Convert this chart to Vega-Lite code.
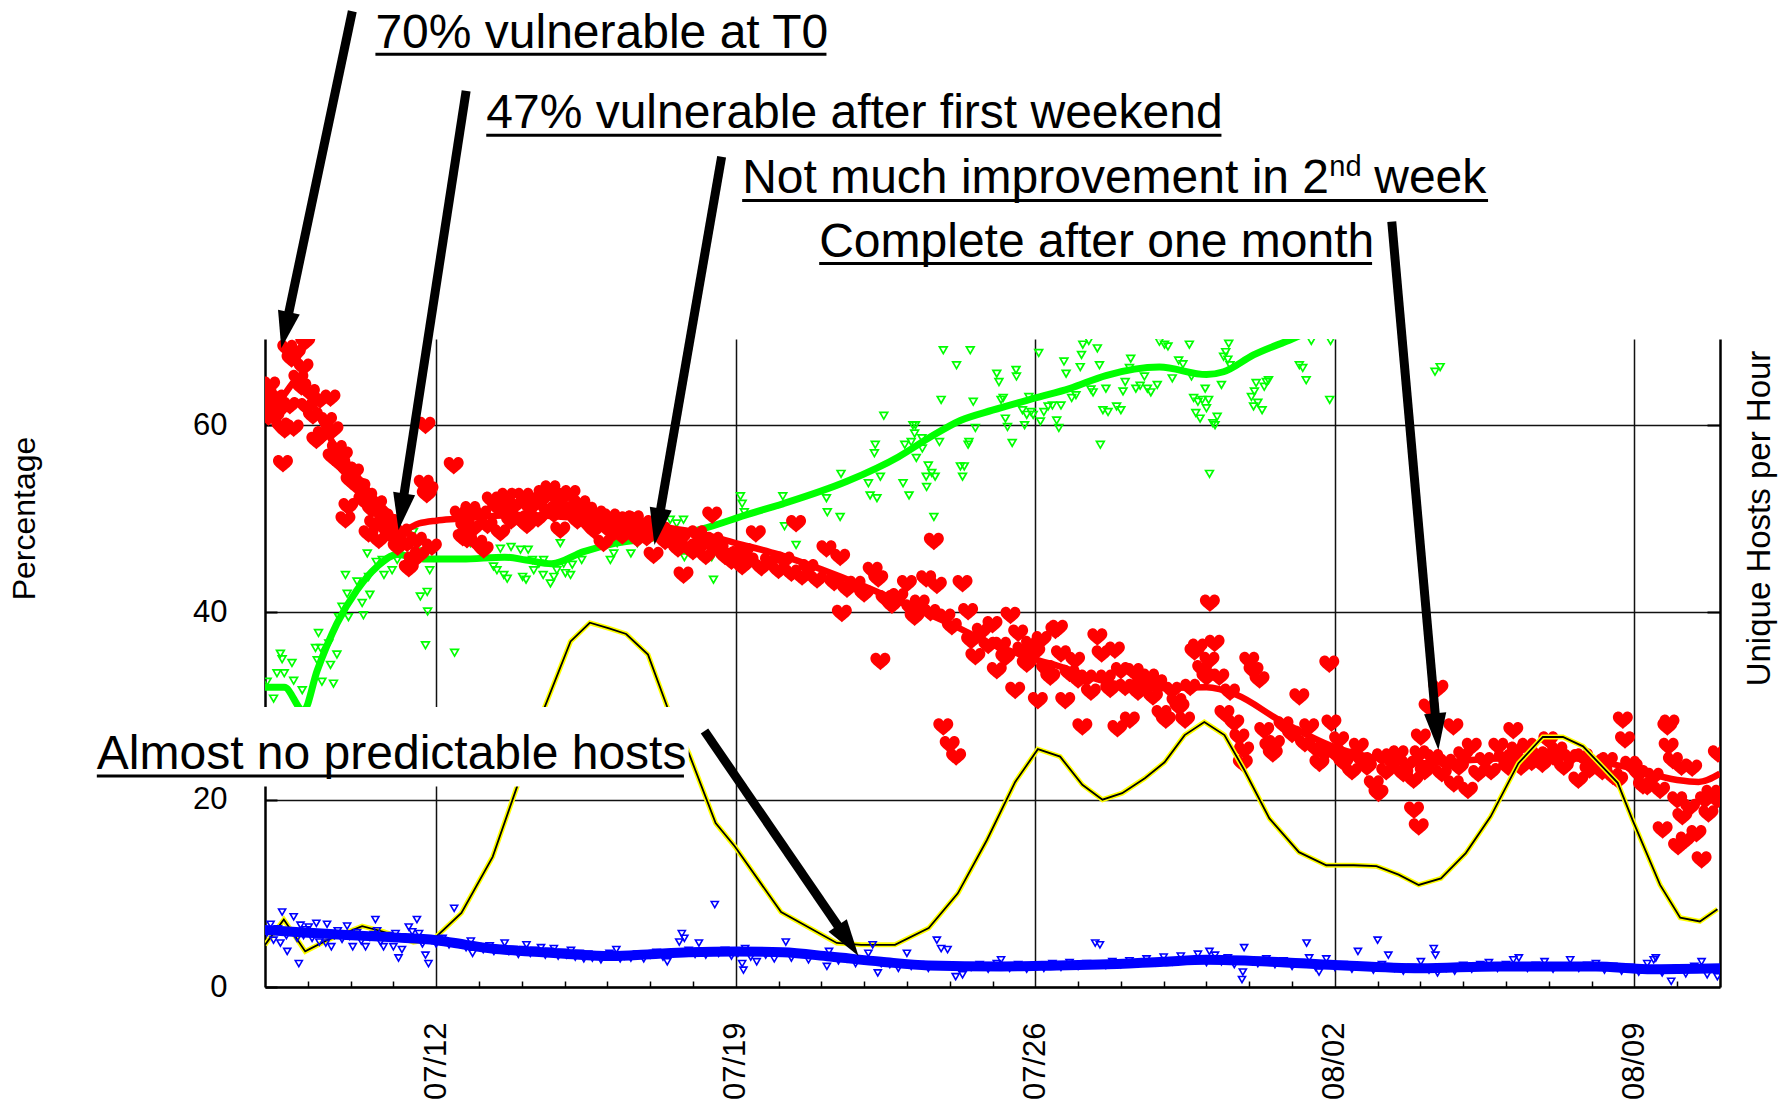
{
  "$schema": "https://vega.github.io/schema/vega-lite/v6.json",
  "width": 1455,
  "height": 648,
  "autosize": {"type": "none"},
  "padding": {"left": 265, "top": 339, "right": 61, "bottom": 117},
  "background": "white",
  "config": {"view": {"stroke": null}, "font": "Liberation Sans"},
  "datasets": {
    "vuln": [
      {"d":8.02,"v":62.0},{"d":8.05,"v":63.2},{"d":8.08,"v":60.9},{"d":8.12,"v":64.3},{"d":8.15,"v":61.6},{"d":8.18,"v":62.7},{"d":8.22,"v":60.9},{"d":8.28,"v":62.9},{"d":8.32,"v":61.6},{"d":8.38,"v":59.9},{"d":8.42,"v":55.9},{"d":8.46,"v":59.5},{"d":8.52,"v":68.2},{"d":8.58,"v":62.1},{"d":8.62,"v":67.1},{"d":8.67,"v":59.7},{"d":8.72,"v":67.7},{"d":8.78,"v":65.0},{"d":8.85,"v":64.1},{"d":8.9,"v":66.2},{"d":8.94,"v":68.9},{"d":8.97,"v":62.0},
      {"d":9.05,"v":63.5},{"d":9.12,"v":61.0},{"d":9.2,"v":58.4},{"d":9.29,"v":62.7},{"d":9.35,"v":59.0},{"d":9.45,"v":60.5},{"d":9.53,"v":62.9},{"d":9.58,"v":56.6},{"d":9.6,"v":59.5},{"d":9.68,"v":57.5},{"d":9.76,"v":55.9},{"d":9.82,"v":56.8},{"d":9.88,"v":49.9},{"d":9.92,"v":55.2},{"d":9.95,"v":51.3},{"d":10.0,"v":54.1},{"d":10.08,"v":55.0},{"d":10.15,"v":53.5},{"d":10.23,"v":53.4},{"d":10.3,"v":52.0},{"d":10.39,"v":52.4},{"d":10.42,"v":48.4},{"d":10.5,"v":51.0},{"d":10.55,"v":49.5},{"d":10.62,"v":51.6},{"d":10.66,"v":47.7},{"d":10.77,"v":50.2},{"d":10.85,"v":48.8},{"d":10.92,"v":49.6},{"d":11.0,"v":48.1},{"d":11.1,"v":47.0},{"d":11.2,"v":48.6},{"d":11.32,"v":47.4},{"d":11.36,"v":44.7},{"d":11.47,"v":45.6},{"d":11.55,"v":47.7},{"d":11.62,"v":46.2},{"d":11.71,"v":53.8},{"d":11.75,"v":60.0},{"d":11.78,"v":52.6},{"d":11.82,"v":53.1},{"d":11.9,"v":47.0},
      {"d":12.41,"v":55.7},{"d":12.55,"v":50.5},{"d":12.62,"v":48.0},{"d":12.68,"v":49.2},{"d":12.72,"v":47.8},{"d":12.8,"v":51.0},{"d":12.88,"v":49.0},{"d":12.96,"v":47.4},{"d":13.05,"v":50.5},{"d":13.11,"v":46.7},{"d":13.2,"v":49.3},{"d":13.3,"v":52.0},{"d":13.42,"v":51.3},{"d":13.5,"v":48.5},{"d":13.58,"v":50.8},{"d":13.66,"v":52.4},{"d":13.75,"v":49.8},{"d":13.85,"v":51.5},{"d":13.95,"v":50.0},{"d":14.04,"v":52.4},{"d":14.12,"v":49.3},{"d":14.2,"v":51.2},{"d":14.28,"v":51.6},{"d":14.38,"v":50.0},{"d":14.45,"v":52.0},{"d":14.51,"v":52.7},{"d":14.6,"v":51.0},{"d":14.67,"v":53.2},{"d":14.75,"v":50.5},{"d":14.82,"v":52.2},{"d":14.9,"v":48.8},{"d":14.98,"v":52.4},{"d":15.06,"v":50.9},{"d":15.14,"v":52.7},{"d":15.22,"v":51.0},{"d":15.3,"v":49.8},{"d":15.37,"v":51.6},{"d":15.45,"v":50.2},{"d":15.53,"v":50.9},{"d":15.6,"v":49.2},{"d":15.68,"v":48.8},{"d":15.75,"v":50.5},{"d":15.83,"v":49.5},{"d":15.91,"v":47.4},{"d":16.0,"v":49.0},{"d":16.07,"v":50.2},{"d":16.15,"v":48.5},{"d":16.25,"v":49.6},{"d":16.35,"v":48.2},{"d":16.46,"v":49.9},{"d":16.55,"v":48.9},{"d":16.62,"v":50.0},{"d":16.7,"v":47.9},{"d":16.77,"v":48.8},{"d":16.85,"v":49.5},{"d":16.92,"v":48.0},{"d":17.0,"v":49.1},{"d":17.08,"v":46.1},{"d":17.15,"v":48.5},{"d":17.25,"v":48.8},{"d":17.35,"v":47.6},{"d":17.45,"v":48.3},{"d":17.55,"v":47.4},{"d":17.65,"v":46.8},{"d":17.72,"v":48.0},{"d":17.78,"v":44.0},{"d":17.88,"v":47.0},{"d":18.0,"v":46.5},{"d":18.1,"v":48.4},{"d":18.2,"v":47.2},{"d":18.3,"v":46.0},{"d":18.38,"v":47.5},{"d":18.45,"v":50.4},{"d":18.48,"v":47.7},
      {"d":18.6,"v":46.8},{"d":18.75,"v":46.0},{"d":18.9,"v":45.5},{"d":19.05,"v":46.2},{"d":19.15,"v":44.9},{"d":19.19,"v":46.5},{"d":19.3,"v":45.5},{"d":19.47,"v":48.4},{"d":19.6,"v":44.8},{"d":19.8,"v":45.5},{"d":20.0,"v":44.5},{"d":20.14,"v":45.6},{"d":20.3,"v":44.2},{"d":20.41,"v":49.5},{"d":20.55,"v":43.8},{"d":20.7,"v":44.8},{"d":20.9,"v":43.5},{"d":21.12,"v":46.8},{"d":21.3,"v":43.2},{"d":21.44,"v":45.9},{"d":21.48,"v":39.9},{"d":21.6,"v":42.5},{"d":21.8,"v":43.0},{"d":22.0,"v":42.0},{"d":22.2,"v":44.5},{"d":22.33,"v":43.6},{"d":22.38,"v":34.8},{"d":22.5,"v":41.5},{"d":22.65,"v":40.8},{"d":22.8,"v":41.7},{"d":23.0,"v":43.1},{"d":23.1,"v":40.5},{"d":23.18,"v":39.5},{"d":23.3,"v":41.0},{"d":23.45,"v":43.6},{"d":23.55,"v":40.0},{"d":23.63,"v":47.6},{"d":23.7,"v":42.9},{"d":23.85,"v":27.8},{"d":23.9,"v":39.5},{"d":24.0,"v":25.9},{"d":24.05,"v":38.5},{"d":24.15,"v":24.6},{"d":24.3,"v":43.1},{"d":24.43,"v":40.1},{"d":24.5,"v":37.0},{"d":24.6,"v":35.3},{"d":24.75,"v":38.0},{"d":24.9,"v":36.5},{"d":25.0,"v":38.7},{"d":25.1,"v":33.8},{"d":25.2,"v":36.5},{"d":25.3,"v":35.2},{"d":25.42,"v":39.7},{"d":25.53,"v":31.7},{"d":25.6,"v":37.8},{"d":25.7,"v":36.0},{"d":25.8,"v":34.5},{"d":25.9,"v":36.6},{"d":26.0,"v":35.8},{"d":26.06,"v":30.6},{"d":26.15,"v":37.1},{"d":26.25,"v":34.0},{"d":26.35,"v":33.1},{"d":26.47,"v":38.1},{"d":26.53,"v":38.3},{"d":26.6,"v":35.6},{"d":26.7,"v":30.6},{"d":26.8,"v":33.5},{"d":26.93,"v":34.9},{"d":27.0,"v":32.8},{"d":27.1,"v":27.8},{"d":27.2,"v":33.0},{"d":27.3,"v":31.5},{"d":27.45,"v":37.4},{"d":27.55,"v":35.6},{"d":27.65,"v":33.0},{"d":27.75,"v":31.8},{"d":27.86,"v":36.0},{"d":27.92,"v":27.6},{"d":28.0,"v":33.8},{"d":28.1,"v":32.0},{"d":28.21,"v":28.5},{"d":28.3,"v":33.7},{"d":28.4,"v":31.5},{"d":28.5,"v":32.5},{"d":28.66,"v":33.1},{"d":28.75,"v":31.0},{"d":28.85,"v":32.5},{"d":28.95,"v":29.2},{"d":29.05,"v":28.5},{"d":29.2,"v":31.7},{"d":29.3,"v":30.5},{"d":29.37,"v":29.9},{"d":29.5,"v":28.5},{"d":29.62,"v":32.0},{"d":29.72,"v":35.8},{"d":29.8,"v":36.3},{"d":29.9,"v":34.0},{"d":30.0,"v":33.1},{"d":30.07,"v":34.9},{"d":30.08,"v":41.0},{"d":30.19,"v":36.7},{"d":30.3,"v":33.1},{"d":30.42,"v":29.2},{"d":30.55,"v":31.5},{"d":30.65,"v":28.2},{"d":30.77,"v":26.7},{"d":30.85,"v":23.9},{"d":30.88,"v":25.3},{"d":31.0,"v":34.9},{"d":31.1,"v":33.8},{"d":31.24,"v":32.8},{"d":31.35,"v":27.4},{"d":31.47,"v":25.7},{"d":31.55,"v":24.9},{"d":31.6,"v":26.0},{"d":31.8,"v":28.0},{"d":32.0,"v":27.0},{"d":32.17,"v":31.0},{"d":32.3,"v":26.0},{"d":32.4,"v":27.8},{"d":32.55,"v":25.5},{"d":32.64,"v":23.9},{"d":32.75,"v":25.0},{"d":32.87,"v":34.5},{"d":32.92,"v":28.2},{"d":33.0,"v":25.0},{"d":33.1,"v":26.4},{"d":33.2,"v":24.0},{"d":33.3,"v":24.6},{"d":33.4,"v":23.0},{"d":33.56,"v":25.7},{"d":33.65,"v":24.2},{"d":33.75,"v":23.5},{"d":33.91,"v":21.7},{"d":34.02,"v":20.7},{"d":34.1,"v":24.6},{"d":34.2,"v":23.0},{"d":34.35,"v":24.0},{"d":34.49,"v":24.9},{"d":34.6,"v":22.8},{"d":34.7,"v":23.8},{"d":34.84,"v":22.1},{"d":34.85,"v":18.9},{"d":34.96,"v":17.1},{"d":34.98,"v":24.9},{"d":35.01,"v":26.7},{"d":35.1,"v":23.0},{"d":35.19,"v":29.9},{"d":35.3,"v":24.5},{"d":35.42,"v":31.9},{"d":35.5,"v":22.8},{"d":35.6,"v":24.0},{"d":35.77,"v":27.8},{"d":35.78,"v":21.7},{"d":35.9,"v":23.5},{"d":36.0,"v":24.8},{"d":36.11,"v":21.0},{"d":36.2,"v":25.7},{"d":36.35,"v":22.8},{"d":36.5,"v":24.2},{"d":36.65,"v":23.0},{"d":36.82,"v":25.7},{"d":36.95,"v":24.5},{"d":37.05,"v":23.5},{"d":37.17,"v":27.4},{"d":37.25,"v":25.3},{"d":37.35,"v":23.5},{"d":37.5,"v":25.7},{"d":37.6,"v":24.0},{"d":37.75,"v":24.8},{"d":37.85,"v":23.8},{"d":37.99,"v":26.4},{"d":38.1,"v":24.6},{"d":38.2,"v":25.3},{"d":38.35,"v":23.5},{"d":38.5,"v":24.5},{"d":38.69,"v":22.1},{"d":38.8,"v":24.6},{"d":38.95,"v":23.2},{"d":39.1,"v":24.0},{"d":39.25,"v":23.0},{"d":39.38,"v":24.2},{"d":39.5,"v":22.5},{"d":39.62,"v":22.1},{"d":39.73,"v":28.5},{"d":39.78,"v":26.4},{"d":39.9,"v":23.8},{"d":39.96,"v":23.5},{"d":40.1,"v":22.8},{"d":40.2,"v":21.5},{"d":40.3,"v":21.4},{"d":40.45,"v":22.5},{"d":40.6,"v":21.0},{"d":40.66,"v":16.8},{"d":40.77,"v":27.8},{"d":40.82,"v":28.2},{"d":40.8,"v":25.7},{"d":40.9,"v":24.2},{"d":41.0,"v":20.0},{"d":41.02,"v":15.0},{"d":41.1,"v":23.5},{"d":41.12,"v":18.2},{"d":41.2,"v":15.7},{"d":41.3,"v":19.2},{"d":41.35,"v":23.4},{"d":41.45,"v":16.4},{"d":41.57,"v":13.6},{"d":41.65,"v":20.0},{"d":41.73,"v":18.5},{"d":41.8,"v":20.7},{"d":41.94,"v":20.0},{"d":41.95,"v":24.9}
    ],
    "vulnFit": [
      {"d":8.0,"v":61.5},{"d":8.4,"v":63.0},{"d":8.8,"v":65.0},{"d":9.2,"v":61.5},{"d":9.6,"v":58.0},{"d":10.0,"v":55.5},{"d":10.5,"v":52.5},{"d":11.0,"v":50.0},{"d":11.2,"v":48.8},{"d":11.6,"v":49.5},{"d":12.0,"v":49.8},{"d":12.5,"v":50.0},{"d":13.0,"v":50.2},{"d":14.0,"v":50.4},{"d":15.0,"v":50.2},{"d":16.0,"v":49.8},{"d":17.0,"v":49.3},{"d":18.0,"v":48.6},{"d":19.0,"v":47.4},{"d":20.0,"v":46.2},{"d":21.0,"v":44.6},{"d":22.0,"v":42.8},{"d":23.0,"v":40.8},{"d":24.0,"v":38.8},{"d":25.0,"v":36.6},{"d":26.0,"v":35.0},{"d":26.6,"v":34.2},{"d":27.5,"v":32.8},{"d":28.7,"v":31.9},{"d":30.0,"v":32.0},{"d":30.7,"v":31.2},{"d":31.7,"v":28.5},{"d":33.0,"v":25.6},{"d":34.3,"v":24.2},{"d":35.1,"v":23.9},{"d":36.4,"v":24.3},{"d":38.0,"v":24.6},{"d":39.0,"v":24.2},{"d":39.8,"v":23.5},{"d":41.0,"v":22.1},{"d":41.5,"v":21.9},{"d":42.0,"v":22.8}
    ],
    "patched": [
      {"d":8.05,"v":32.6},{"d":8.2,"v":30.8},{"d":8.28,"v":33.5},{"d":8.36,"v":35.6},{"d":8.4,"v":35.0},{"d":8.45,"v":33.5},{"d":8.63,"v":34.6},{"d":8.67,"v":32.7},{"d":8.87,"v":31.7},{"d":9.18,"v":36.2},{"d":9.22,"v":34.9},{"d":9.25,"v":37.8},{"d":9.3,"v":36.2},{"d":9.33,"v":32.6},{"d":9.49,"v":36.7},{"d":9.53,"v":34.4},{"d":9.6,"v":32.4},{"d":9.68,"v":35.5},{"d":9.72,"v":39.5},{"d":9.8,"v":40.6},{"d":9.88,"v":44.0},{"d":9.92,"v":42.0},{"d":9.95,"v":39.5},{"d":10.15,"v":43.3},{"d":10.27,"v":41.0},{"d":10.3,"v":39.7},{"d":10.39,"v":46.3},{"d":10.42,"v":43.8},{"d":10.45,"v":41.9},{"d":10.6,"v":45.4},{"d":10.74,"v":45.6},{"d":10.78,"v":44.0},{"d":10.97,"v":44.5},{"d":11.09,"v":45.6},{"d":11.2,"v":46.8},{"d":11.35,"v":47.5},{"d":11.47,"v":48.6},{"d":11.55,"v":46.5},{"d":11.63,"v":41.7},{"d":11.75,"v":36.5},{"d":11.79,"v":42.2},{"d":11.8,"v":40.1},{"d":11.85,"v":44.5},{"d":12.43,"v":35.7},{"d":12.8,"v":47.4},{"d":13.0,"v":47.4},{"d":13.34,"v":44.9},{"d":13.42,"v":44.5},{"d":13.5,"v":46.8},{"d":13.58,"v":44.0},{"d":13.66,"v":43.6},{"d":13.75,"v":47.0},{"d":13.97,"v":46.7},{"d":14.02,"v":43.8},{"d":14.1,"v":43.5},{"d":14.15,"v":46.7},{"d":14.25,"v":45.6},{"d":14.28,"v":44.5},{"d":14.4,"v":45.2},{"d":14.5,"v":44.0},{"d":14.51,"v":45.6},{"d":14.67,"v":43.1},{"d":14.75,"v":43.8},{"d":14.82,"v":44.5},{"d":14.9,"v":47.4},{"d":14.98,"v":45.2},{"d":15.02,"v":44.2},{"d":15.14,"v":44.0},{"d":15.18,"v":45.1},{"d":15.4,"v":45.6},{"d":15.6,"v":49.0},{"d":16.07,"v":45.6},{"d":16.15,"v":46.3},{"d":16.23,"v":47.4},{"d":16.55,"v":46.3},{"d":16.7,"v":47.4},{"d":16.85,"v":49.2},{"d":17.15,"v":48.1},{"d":17.47,"v":49.9},{"d":17.62,"v":49.5},{"d":17.78,"v":49.9},{"d":17.8,"v":45.9},{"d":18.1,"v":46.8},{"d":18.44,"v":45.9},{"d":18.48,"v":43.5},{"d":19.11,"v":52.4},{"d":19.15,"v":51.6},{"d":19.2,"v":50.7},{"d":20.1,"v":52.4},{"d":20.14,"v":49.2},{"d":20.41,"v":47.2},{"d":21.12,"v":52.2},{"d":21.14,"v":50.7},{"d":21.44,"v":50.2},{"d":21.46,"v":54.8},{"d":22.1,"v":53.8},{"d":22.14,"v":52.5},{"d":22.3,"v":52.2},{"d":22.24,"v":57.0},{"d":22.26,"v":57.9},{"d":22.46,"v":61.0},{"d":22.38,"v":54.5},{"d":22.91,"v":53.8},{"d":23.05,"v":52.5},{"d":23.14,"v":60.0},{"d":23.18,"v":59.1},{"d":23.2,"v":60.0},{"d":22.95,"v":57.9},{"d":23.1,"v":58.2},{"d":23.35,"v":58.6},{"d":23.36,"v":57.5},{"d":23.22,"v":56.5},{"d":23.45,"v":54.5},{"d":23.46,"v":53.4},{"d":23.5,"v":55.7},{"d":23.58,"v":54.9},{"d":23.66,"v":54.5},{"d":23.63,"v":50.2},{"d":23.76,"v":58.2},{"d":23.8,"v":62.7},{"d":23.85,"v":68.0},{"d":24.16,"v":66.4},{"d":24.25,"v":55.6},{"d":24.34,"v":55.6},{"d":24.3,"v":54.5},{"d":24.43,"v":57.9},{"d":24.45,"v":58.2},{"d":24.48,"v":68.0},{"d":24.55,"v":62.5},{"d":24.6,"v":59.7},{"d":25.1,"v":65.5},{"d":25.15,"v":64.6},{"d":25.2,"v":62.7},{"d":25.25,"v":62.9},{"d":25.3,"v":60.7},{"d":25.35,"v":59.8},{"d":25.46,"v":58.1},{"d":25.55,"v":65.9},{"d":25.56,"v":65.2},{"d":25.7,"v":61.6},{"d":25.75,"v":60.0},{"d":25.8,"v":61.1},{"d":25.85,"v":63.0},{"d":25.9,"v":61.4},{"d":25.95,"v":61.1},{"d":26.08,"v":67.7},{"d":26.12,"v":60.4},{"d":26.2,"v":61.4},{"d":26.3,"v":62.0},{"d":26.4,"v":62.1},{"d":26.5,"v":60.5},{"d":26.55,"v":59.7},{"d":26.6,"v":62.1},{"d":26.67,"v":66.8},{"d":26.72,"v":65.5},{"d":26.85,"v":62.9},{"d":26.95,"v":63.2},{"d":27.05,"v":66.2},{"d":27.08,"v":67.5},{"d":27.11,"v":68.6},{"d":27.25,"v":69.0},{"d":27.3,"v":63.8},{"d":27.35,"v":63.5},{"d":27.45,"v":68.2},{"d":27.5,"v":66.4},{"d":27.52,"v":57.9},{"d":27.58,"v":61.6},{"d":27.7,"v":61.4},{"d":27.65,"v":63.9},{"d":27.9,"v":62.0},{"d":28.0,"v":61.6},{"d":28.05,"v":63.6},{"d":28.1,"v":64.6},{"d":28.2,"v":66.1},{"d":28.23,"v":67.1},{"d":28.35,"v":63.9},{"d":28.45,"v":64.2},{"d":28.55,"v":65.2},{"d":28.62,"v":63.9},{"d":28.7,"v":63.5},{"d":28.85,"v":64.3},{"d":28.9,"v":68.9},{"d":29.02,"v":68.6},{"d":29.1,"v":68.4},{"d":29.2,"v":65.0},{"d":29.35,"v":66.9},{"d":29.45,"v":66.5},{"d":29.6,"v":68.6},{"d":29.65,"v":65.2},{"d":29.7,"v":62.9},{"d":29.75,"v":61.3},{"d":29.8,"v":62.5},{"d":29.85,"v":60.7},{"d":29.9,"v":62.7},{"d":29.97,"v":63.9},{"d":30.0,"v":61.8},{"d":30.05,"v":62.7},{"d":30.07,"v":54.8},{"d":30.15,"v":60.2},{"d":30.2,"v":60.0},{"d":30.25,"v":60.9},{"d":30.35,"v":64.3},{"d":30.4,"v":67.3},{"d":30.45,"v":67.8},{"d":30.5,"v":67.0},{"d":30.55,"v":66.4},{"d":30.52,"v":68.7},{"d":31.05,"v":63.0},{"d":31.1,"v":62.0},{"d":31.12,"v":63.6},{"d":31.16,"v":64.5},{"d":31.2,"v":62.4},{"d":31.3,"v":61.6},{"d":31.35,"v":64.1},{"d":31.4,"v":64.6},{"d":31.45,"v":64.8},{"d":32.17,"v":66.4},{"d":32.25,"v":66.1},{"d":32.33,"v":64.8},{"d":32.45,"v":69.0},{"d":32.88,"v":62.7},{"d":32.9,"v":69.0},{"d":35.34,"v":65.7},{"d":35.46,"v":66.2}
    ],
    "patchedFit": [
      {"d":8.0,"v":32.0},{"d":8.45,"v":32.0},{"d":8.9,"v":29.5},{"d":9.22,"v":33.8},{"d":9.68,"v":38.8},{"d":10.15,"v":42.4},{"d":10.62,"v":44.9},{"d":11.09,"v":46.2},{"d":11.7,"v":45.7},{"d":12.6,"v":45.7},{"d":13.6,"v":45.9},{"d":14.1,"v":45.6},{"d":14.7,"v":45.2},{"d":15.45,"v":46.5},{"d":16.2,"v":47.4},{"d":17.0,"v":47.9},{"d":18.2,"v":48.9},{"d":19.3,"v":50.5},{"d":20.1,"v":51.6},{"d":21.6,"v":54.0},{"d":22.8,"v":56.6},{"d":23.5,"v":58.6},{"d":24.25,"v":60.5},{"d":25.0,"v":61.6},{"d":26.0,"v":62.9},{"d":26.8,"v":63.9},{"d":27.65,"v":65.3},{"d":28.9,"v":66.2},{"d":30.0,"v":65.4},{"d":30.4,"v":65.7},{"d":31.1,"v":67.5},{"d":32.0,"v":69.2},{"d":32.6,"v":70.4}
    ],
    "predict": [
      {"d":8.05,"v":5.8},{"d":8.13,"v":6.7},{"d":8.2,"v":5.0},{"d":8.3,"v":6.2},{"d":8.36,"v":4.7},{"d":8.4,"v":8.0},{"d":8.5,"v":5.5},{"d":8.52,"v":3.8},{"d":8.6,"v":6.0},{"d":8.67,"v":7.5},{"d":8.75,"v":5.2},{"d":8.79,"v":2.5},{"d":8.83,"v":6.6},{"d":8.9,"v":5.5},{"d":8.95,"v":6.1},{"d":9.02,"v":6.4},{"d":9.1,"v":5.2},{"d":9.2,"v":6.8},{"d":9.27,"v":4.8},{"d":9.35,"v":5.6},{"d":9.42,"v":4.7},{"d":9.45,"v":6.7},{"d":9.55,"v":4.3},{"d":9.62,"v":5.5},{"d":9.7,"v":6.0},{"d":9.8,"v":5.1},{"d":9.92,"v":6.5},{"d":9.98,"v":5.4},{"d":10.05,"v":4.3},{"d":10.15,"v":5.8},{"d":10.25,"v":4.9},{"d":10.35,"v":4.3},{"d":10.45,"v":5.3},{"d":10.54,"v":5.6},{"d":10.58,"v":7.2},{"d":10.62,"v":6.0},{"d":10.7,"v":4.8},{"d":10.77,"v":4.3},{"d":10.88,"v":5.5},{"d":11.0,"v":4.3},{"d":11.05,"v":5.7},{"d":11.12,"v":3.1},{"d":11.2,"v":4.0},{"d":11.28,"v":5.2},{"d":11.36,"v":6.4},{"d":11.44,"v":5.9},{"d":11.55,"v":7.2},{"d":11.6,"v":5.7},{"d":11.68,"v":4.6},{"d":11.75,"v":3.4},{"d":11.82,"v":2.5},{"d":11.9,"v":5.0},{"d":12.0,"v":4.6},{"d":12.15,"v":5.2},{"d":12.3,"v":4.5},{"d":12.42,"v":8.4},{"d":12.55,"v":4.6},{"d":12.7,"v":4.2},{"d":12.81,"v":4.9},{"d":12.85,"v":3.6},{"d":12.95,"v":4.3},{"d":13.1,"v":4.0},{"d":13.25,"v":4.4},{"d":13.35,"v":3.8},{"d":13.45,"v":4.1},{"d":13.6,"v":4.7},{"d":13.7,"v":3.8},{"d":13.8,"v":4.0},{"d":13.92,"v":3.5},{"d":14.05,"v":4.0},{"d":14.11,"v":4.5},{"d":14.2,"v":3.6},{"d":14.3,"v":3.9},{"d":14.45,"v":4.2},{"d":14.55,"v":3.4},{"d":14.65,"v":3.8},{"d":14.75,"v":4.1},{"d":14.85,"v":3.3},{"d":14.95,"v":3.7},{"d":15.05,"v":3.4},{"d":15.15,"v":3.9},{"d":15.25,"v":3.2},{"d":15.35,"v":3.6},{"d":15.45,"v":3.0},{"d":15.55,"v":3.5},{"d":15.65,"v":3.1},{"d":15.75,"v":3.4},{"d":15.85,"v":2.9},{"d":15.95,"v":3.3},{"d":16.05,"v":3.6},{"d":16.21,"v":4.0},{"d":16.3,"v":3.0},{"d":16.4,"v":3.3},{"d":16.55,"v":3.1},{"d":16.7,"v":3.5},{"d":16.85,"v":3.0},{"d":17.0,"v":3.4},{"d":17.15,"v":3.7},{"d":17.3,"v":3.2},{"d":17.4,"v":2.7},{"d":17.55,"v":3.6},{"d":17.68,"v":4.8},{"d":17.74,"v":5.7},{"d":17.8,"v":5.2},{"d":17.9,"v":3.9},{"d":18.05,"v":3.5},{"d":18.14,"v":4.7},{"d":18.3,"v":3.4},{"d":18.51,"v":8.8},{"d":18.6,"v":3.6},{"d":18.75,"v":3.9},{"d":18.9,"v":3.3},{"d":19.05,"v":3.6},{"d":19.15,"v":2.5},{"d":19.18,"v":1.8},{"d":19.22,"v":4.1},{"d":19.35,"v":3.2},{"d":19.49,"v":2.7},{"d":19.7,"v":3.4},{"d":19.9,"v":3.0},{"d":20.17,"v":4.8},{"d":20.3,"v":3.1},{"d":20.5,"v":3.6},{"d":20.7,"v":2.9},{"d":20.9,"v":3.4},{"d":21.13,"v":2.2},{"d":21.18,"v":3.8},{"d":21.4,"v":2.8},{"d":21.6,"v":3.0},{"d":21.8,"v":2.5},{"d":22.1,"v":3.6},{"d":22.2,"v":4.5},{"d":22.32,"v":1.5},{"d":22.4,"v":2.5},{"d":22.6,"v":2.4},{"d":22.8,"v":2.0},{"d":23.0,"v":3.6},{"d":23.1,"v":2.2},{"d":23.3,"v":2.4},{"d":23.5,"v":2.0},{"d":23.7,"v":5.0},{"d":23.8,"v":4.1},{"d":23.95,"v":4.0},{"d":24.14,"v":1.1},{"d":24.3,"v":1.3},{"d":24.5,"v":2.1},{"d":24.7,"v":2.4},{"d":24.9,"v":1.9},{"d":25.1,"v":2.5},{"d":25.2,"v":2.9},{"d":25.4,"v":2.0},{"d":25.6,"v":2.4},{"d":25.8,"v":1.9},{"d":26.0,"v":2.3},{"d":26.2,"v":2.0},{"d":26.4,"v":2.5},{"d":26.6,"v":2.1},{"d":26.8,"v":2.6},{"d":27.0,"v":2.2},{"d":27.2,"v":2.5},{"d":27.4,"v":4.7},{"d":27.51,"v":4.5},{"d":27.65,"v":2.3},{"d":27.8,"v":2.7},{"d":28.0,"v":2.4},{"d":28.2,"v":2.8},{"d":28.4,"v":2.5},{"d":28.6,"v":3.0},{"d":28.8,"v":2.6},{"d":29.0,"v":3.2},{"d":29.2,"v":2.7},{"d":29.4,"v":3.3},{"d":29.6,"v":2.9},{"d":29.8,"v":3.5},{"d":30.0,"v":2.6},{"d":30.07,"v":3.8},{"d":30.2,"v":3.4},{"d":30.35,"v":2.7},{"d":30.5,"v":3.1},{"d":30.65,"v":2.4},{"d":30.83,"v":0.8},{"d":30.85,"v":1.6},{"d":30.88,"v":4.2},{"d":31.0,"v":2.9},{"d":31.2,"v":2.5},{"d":31.4,"v":3.0},{"d":31.6,"v":2.4},{"d":31.8,"v":2.8},{"d":32.0,"v":2.2},{"d":32.2,"v":2.6},{"d":32.34,"v":4.7},{"d":32.4,"v":3.1},{"d":32.55,"v":2.1},{"d":32.63,"v":1.6},{"d":32.8,"v":3.0},{"d":33.0,"v":2.1},{"d":33.2,"v":2.4},{"d":33.4,"v":1.9},{"d":33.54,"v":3.8},{"d":33.7,"v":2.2},{"d":33.9,"v":1.8},{"d":34.0,"v":5.0},{"d":34.1,"v":2.4},{"d":34.25,"v":3.4},{"d":34.4,"v":2.0},{"d":34.6,"v":1.7},{"d":34.8,"v":2.1},{"d":35.01,"v":2.7},{"d":35.2,"v":1.8},{"d":35.31,"v":4.1},{"d":35.35,"v":3.4},{"d":35.4,"v":1.5},{"d":35.6,"v":2.0},{"d":35.8,"v":1.7},{"d":36.0,"v":2.3},{"d":36.2,"v":1.9},{"d":36.4,"v":2.4},{"d":36.6,"v":2.6},{"d":36.8,"v":2.0},{"d":37.0,"v":2.4},{"d":37.17,"v":2.9},{"d":37.3,"v":3.1},{"d":37.5,"v":2.0},{"d":37.7,"v":2.3},{"d":37.9,"v":2.7},{"d":38.1,"v":1.9},{"d":38.3,"v":2.2},{"d":38.5,"v":2.9},{"d":38.7,"v":2.0},{"d":38.9,"v":2.3},{"d":39.1,"v":2.5},{"d":39.3,"v":1.8},{"d":39.5,"v":2.2},{"d":39.7,"v":1.7},{"d":39.9,"v":2.1},{"d":40.1,"v":1.6},{"d":40.3,"v":2.5},{"d":40.45,"v":2.9},{"d":40.5,"v":3.1},{"d":40.65,"v":1.5},{"d":40.86,"v":0.6},{"d":41.0,"v":2.0},{"d":41.2,"v":1.4},{"d":41.4,"v":2.2},{"d":41.57,"v":2.7},{"d":41.7,"v":1.3},{"d":41.85,"v":1.9},{"d":41.94,"v":1.1}
    ],
    "predictFit": [
      {"d":8.0,"v":6.1},{"d":9.0,"v":5.8},{"d":9.9,"v":5.55},{"d":11.0,"v":5.3},{"d":12.0,"v":5.0},{"d":12.7,"v":4.5},{"d":13.3,"v":4.1},{"d":14.2,"v":3.8},{"d":15.0,"v":3.55},{"d":16.1,"v":3.3},{"d":17.0,"v":3.5},{"d":17.9,"v":3.7},{"d":19.0,"v":3.8},{"d":20.1,"v":3.7},{"d":21.2,"v":3.25},{"d":22.4,"v":2.7},{"d":23.5,"v":2.3},{"d":25.2,"v":2.2},{"d":26.5,"v":2.3},{"d":27.5,"v":2.4},{"d":29.0,"v":2.7},{"d":30.0,"v":2.9},{"d":31.5,"v":2.7},{"d":33.0,"v":2.35},{"d":35.0,"v":2.0},{"d":36.8,"v":2.2},{"d":39.1,"v":2.2},{"d":40.3,"v":1.9},{"d":42.0,"v":2.0}
    ],
    "hosts": [
      {"d":8.0,"v":4.5},{"d":8.44,"v":7.2},{"d":8.94,"v":3.8},{"d":9.45,"v":5.0},{"d":10.27,"v":6.5},{"d":10.77,"v":5.9},{"d":11.47,"v":4.8},{"d":11.96,"v":5.2},{"d":12.59,"v":7.9},{"d":13.32,"v":13.9},{"d":13.89,"v":21.4},{"d":14.51,"v":29.6},{"d":15.14,"v":36.9},{"d":15.59,"v":38.9},{"d":16.04,"v":38.3},{"d":16.44,"v":37.7},{"d":16.95,"v":35.5},{"d":17.4,"v":29.9},{"d":17.91,"v":24.9},{"d":18.53,"v":17.5},{"d":18.98,"v":15.0},{"d":20.06,"v":8.0},{"d":21.36,"v":4.7},{"d":21.93,"v":4.5},{"d":22.72,"v":4.5},{"d":23.51,"v":6.3},{"d":24.19,"v":10.0},{"d":24.87,"v":15.7},{"d":25.53,"v":21.9},{"d":26.06,"v":25.4},{"d":26.58,"v":24.6},{"d":27.1,"v":21.6},{"d":27.57,"v":20.0},{"d":28.03,"v":20.7},{"d":28.56,"v":22.3},{"d":29.02,"v":24.0},{"d":29.49,"v":26.9},{"d":29.95,"v":28.3},{"d":30.42,"v":26.9},{"d":30.88,"v":23.2},{"d":31.47,"v":18.0},{"d":32.16,"v":14.4},{"d":32.8,"v":13.0},{"d":33.44,"v":13.0},{"d":33.97,"v":12.9},{"d":34.49,"v":12.0},{"d":34.96,"v":10.9},{"d":35.48,"v":11.6},{"d":36.06,"v":14.3},{"d":36.64,"v":18.2},{"d":37.29,"v":23.9},{"d":37.86,"v":26.7},{"d":38.33,"v":26.7},{"d":38.8,"v":25.7},{"d":39.61,"v":21.8},{"d":39.96,"v":17.8},{"d":40.6,"v":10.9},{"d":41.07,"v":7.4},{"d":41.53,"v":7.0},{"d":41.94,"v":8.3}
    ],
    "box": [{"d":3.9,"d2":17.9,"v":21.4,"v2":29.9}],
    "notes": [
      {"t":"70% vulnerable at T0","d":10.58,"v":100.3},
      {"t":"47% vulnerable after first weekend","d":13.17,"v":91.7},
      {"t":"Not much improvement in 2","d":19.15,"v":84.8},
      {"t":"week","d":33.92,"v":84.8},
      {"t":"Complete after one month","d":20.95,"v":77.96},
      {"t":"Almost no predictable hosts","d":4.07,"v":23.28}
    ],
    "sup": [{"t":"nd","d":32.87,"v":86.6}],
    "underlines": [
      {"d":10.58,"d2":21.12,"v":99.6},
      {"d":13.17,"d2":30.35,"v":90.97},
      {"d":19.15,"d2":36.58,"v":84.0},
      {"d":20.95,"d2":33.87,"v":77.26},
      {"d":4.07,"d2":17.79,"v":22.53}
    ],
    "arrows": [
      {"d":10.04,"v":104.2,"d2":8.38,"v2":68.2},
      {"d":12.7,"v":95.7,"d2":11.12,"v2":48.8},
      {"d":18.67,"v":88.66,"d2":17.1,"v2":47.2},
      {"d":34.33,"v":81.74,"d2":35.42,"v2":25.3},
      {"d":18.27,"v":27.34,"d2":21.87,"v2":3.31}
    ]
  },
  "encoding": {
    "x": {"field": "d", "type": "quantitative", "scale": {"domain": [8, 42], "nice": false, "zero": false}, "axis": null},
    "y": {"field": "v", "type": "quantitative", "scale": {"domain": [0, 69.2], "nice": false, "zero": false}, "axis": null}
  },
  "layer": [
    {
      "data": {"name": "patched"},
      "mark": {"type": "point", "shape": "triangle-down", "filled": false, "color": "#00ff00", "size": 60, "strokeWidth": 1.7, "opacity": 1, "clip": true},
      "encoding": {
        "x": {"field": "d", "type": "quantitative", "scale": {"domain": [8, 42], "nice": false, "zero": false},
          "axis": {"orient": "bottom", "values": [12, 19, 26, 33, 40], "labelExpr": "datum.value <= 31 ? '07/' + datum.value : '08/0' + (datum.value - 31)",
            "labelAngle": 270, "labelAlign": "right", "labelBaseline": "middle", "labelPadding": 35, "labelFontSize": 31, "labelFont": "Liberation Sans", "labelColor": "black",
            "ticks": false, "domain": true, "domainColor": "black", "domainWidth": 2.5, "grid": true, "gridColor": "#111111", "gridWidth": 1.5, "gridOpacity": 1, "title": null}},
        "y": {"field": "v", "type": "quantitative", "scale": {"domain": [0, 69.2], "nice": false, "zero": false},
          "axis": {"orient": "left", "values": [0, 20, 40, 60], "labelFontSize": 31, "labelFont": "Liberation Sans", "labelColor": "black", "labelPadding": 50, "labelBaseline": "middle",
            "ticks": true, "tickSize": -12, "tickWidth": 2, "tickColor": "black", "domain": true, "domainColor": "black", "domainWidth": 2.5,
            "grid": true, "gridColor": "#111111", "gridWidth": 1.5, "gridOpacity": 1,
            "title": "Percentage", "titleFont": "Liberation Sans", "titleFontSize": 32, "titleFontWeight": "normal", "titleColor": "black", "titleAngle": 270, "titleX": -241, "titleY": 179, "titleAlign": "center", "titleBaseline": "middle"}}
      }
    },
    {
      "data": {"name": "patchedFit"},
      "mark": {"type": "line", "color": "#00ff00", "strokeWidth": 7, "interpolate": "monotone", "clip": true}
    },
    {
      "data": {"name": "vuln"},
      "mark": {"type": "point", "shape": "M0,0.9 C-0.4,0.5 -1,0.2 -1,-0.25 C-1,-0.65 -0.7,-0.85 -0.45,-0.85 C-0.22,-0.85 -0.05,-0.7 0,-0.55 C0.05,-0.7 0.22,-0.85 0.45,-0.85 C0.7,-0.85 1,-0.65 1,-0.25 C1,0.2 0.4,0.5 0,0.9 Z", "filled": true, "color": "#ff0000", "size": 400, "opacity": 1, "strokeWidth": 0, "clip": true}
    },
    {
      "data": {"name": "vulnFit"},
      "mark": {"type": "line", "color": "#ff0000", "strokeWidth": 6.5, "interpolate": "monotone", "clip": true}
    },
    {
      "data": {"name": "hosts"},
      "mark": {"type": "line", "color": "#ffff00", "strokeWidth": 5, "clip": true},
      "encoding": {
        "y": {"field": "v", "type": "quantitative", "scale": {"domain": [0, 69.2], "nice": false, "zero": false},
          "axis": {"orient": "right", "values": [20, 40, 60], "labels": false, "ticks": true, "tickSize": -13, "tickWidth": 2, "tickColor": "black", "domain": true, "domainColor": "black", "domainWidth": 2.5, "grid": false,
            "title": "Unique Hosts per Hour", "titleFont": "Liberation Sans", "titleFontSize": 33, "titleFontWeight": "normal", "titleColor": "black", "titleAngle": 270, "titleX": 39, "titleY": 179, "titleAlign": "center", "titleBaseline": "middle"}}
      }
    },
    {
      "data": {"name": "hosts"},
      "mark": {"type": "line", "color": "#000000", "strokeWidth": 1.8, "clip": true}
    },
    {
      "data": {"name": "predict"},
      "mark": {"type": "point", "shape": "triangle-down", "filled": false, "color": "#0000ff", "size": 50, "strokeWidth": 1.6, "opacity": 1, "clip": true}
    },
    {
      "data": {"name": "predictFit"},
      "mark": {"type": "line", "color": "#0000ff", "strokeWidth": 10, "interpolate": "monotone", "strokeCap": "round", "clip": true},
      "encoding": {
        "x": {"field": "d", "type": "quantitative", "scale": {"domain": [8, 42], "nice": false, "zero": false},
          "axis": {"orient": "bottom", "values": [9,10,11,13,14,15,16,17,18,20,21,22,23,24,25,27,28,29,30,31,32,34,35,36,37,38,39,41], "labels": false, "ticks": true, "tickSize": -6, "tickWidth": 1.5, "tickColor": "black", "domain": false, "grid": false, "title": null}}
      }
    },
    {
      "data": {"name": "box"},
      "mark": {"type": "rect", "color": "white", "opacity": 1},
      "encoding": {
        "x2": {"field": "d2"},
        "y2": {"field": "v2"}
      }
    },
    {
      "data": {"name": "notes"},
      "mark": {"type": "text", "align": "left", "baseline": "alphabetic", "font": "Liberation Sans", "fontSize": 48, "color": "black"},
      "encoding": {"text": {"field": "t"}}
    },
    {
      "data": {"name": "sup"},
      "mark": {"type": "text", "align": "left", "baseline": "alphabetic", "font": "Liberation Sans", "fontSize": 29, "color": "black"},
      "encoding": {"text": {"field": "t"}}
    },
    {
      "data": {"name": "underlines"},
      "mark": {"type": "rule", "color": "black", "strokeWidth": 3},
      "encoding": {"x2": {"field": "d2"}}
    },
    {
      "data": {"name": "arrows"},
      "transform": [
        {"calculate": "(datum.d2 - datum.d) * 1455 / 34", "as": "dx"},
        {"calculate": "(datum.v - datum.v2) * 648 / 69.2", "as": "dy"},
        {"calculate": "sqrt(datum.dx * datum.dx + datum.dy * datum.dy)", "as": "len"},
        {"calculate": "1 - 28 / datum.len", "as": "f"},
        {"calculate": "datum.d + (datum.d2 - datum.d) * datum.f", "as": "de"},
        {"calculate": "datum.v + (datum.v2 - datum.v) * datum.f", "as": "ve"}
      ],
      "mark": {"type": "rule", "color": "black", "strokeWidth": 9, "strokeCap": "butt"},
      "encoding": {"x2": {"field": "de"}, "y2": {"field": "ve"}}
    },
    {
      "data": {"name": "arrows"},
      "transform": [
        {"calculate": "(datum.d2 - datum.d) * 1455 / 34", "as": "dx"},
        {"calculate": "(datum.v - datum.v2) * 648 / 69.2", "as": "dy"},
        {"calculate": "-atan2(datum.dx, datum.dy) * 180 / PI", "as": "ang"}
      ],
      "mark": {"type": "point", "shape": "M0,0 L-0.3,-1 L0.3,-1 Z", "filled": true, "color": "black", "size": 5476, "opacity": 1, "strokeWidth": 0},
      "encoding": {
        "x": {"field": "d2", "type": "quantitative", "scale": {"domain": [8, 42], "nice": false, "zero": false}, "axis": null},
        "y": {"field": "v2", "type": "quantitative", "scale": {"domain": [0, 69.2], "nice": false, "zero": false}, "axis": null},
        "angle": {"field": "ang", "type": "quantitative", "scale": null}
      }
    }
  ],
  "resolve": {"axis": {"x": "independent", "y": "independent"}}
}
